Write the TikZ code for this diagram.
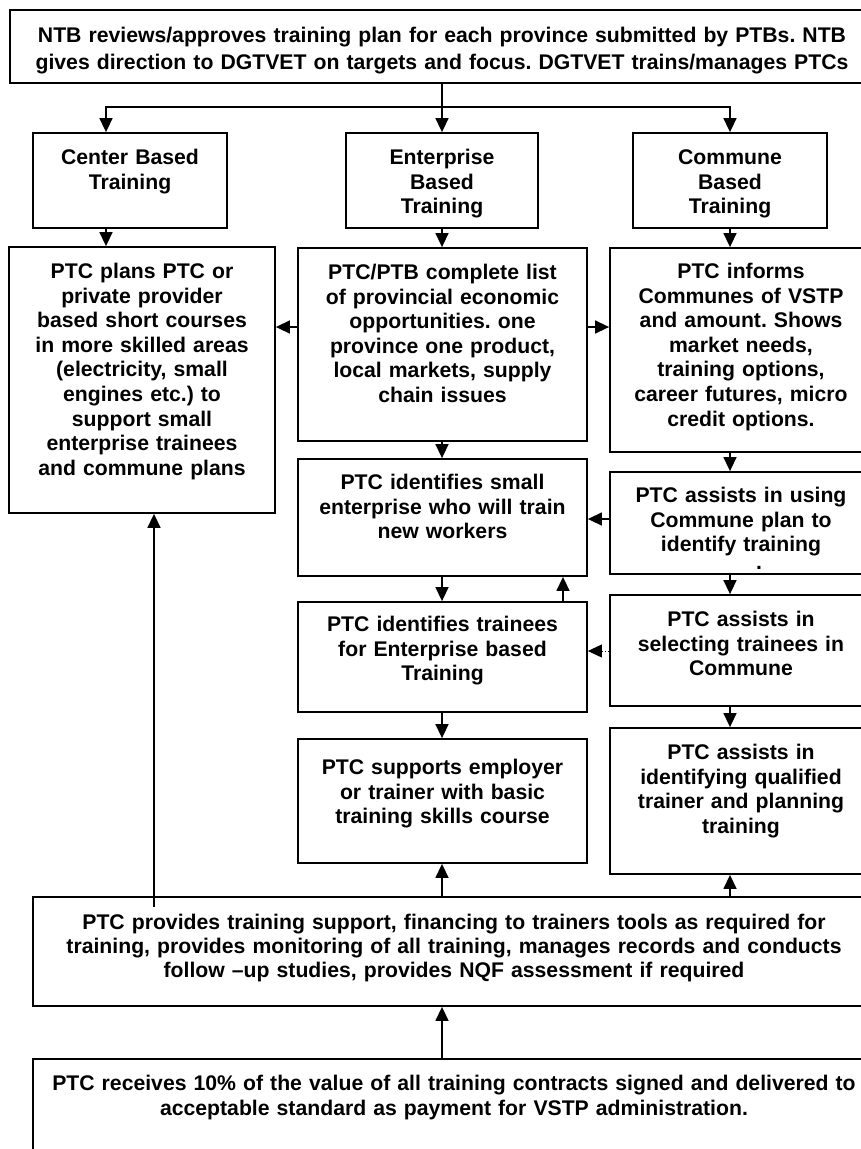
\documentclass[tikz,border=0pt]{standalone}
\usepackage{fontspec}
\setmainfont{Liberation Sans}
\usetikzlibrary{arrows.meta}
\frenchspacing
\begin{document}
\begin{tikzpicture}[x=1pt,y=-1pt,
  box/.style={draw, line width=1.8pt, rectangle, inner sep=0pt},
  txt/.style={anchor=base, inner sep=0pt, align=center, text width=#1,
              font=\bfseries\fontsize{21.2}{24.6}\selectfont},
  txt/.default=330pt,
  link/.style={line width=1.5pt},
  arr/.style={line width=1.5pt, -{Triangle[length=14pt,width=13pt]}},
]
% page
\fill[white] (0,0) rectangle (861,1149);
\useasboundingbox (0,0) rectangle (861,1149);

% column guides
\coordinate (xA) at (106,0);
\coordinate (xE) at (442,0);
\coordinate (xC) at (730,0);
\coordinate (xU) at (563,0);
\coordinate (yR1) at (0,327);
\coordinate (yR2) at (0,519);
\coordinate (yR3) at (0,651);

% boxes
\node[box, minimum width=864pt, minimum height=73pt]  (top)   at (442,46.5)  {};
\node[box, minimum width=194pt, minimum height=95pt]  (cbox)  at (130,180.5) {};
\node[box, minimum width=192pt, minimum height=95pt]  (ebox)  at (442,180.5) {};
\node[box, minimum width=194pt, minimum height=95pt]  (mbox)  at (730,180.5) {};
\node[box, minimum width=266pt, minimum height=266pt] (lbox)  at (142,380)   {};
\node[box, minimum width=289pt, minimum height=193pt] (elist) at (442.5,344.5) {};
\node[box, minimum width=263pt, minimum height=204pt] (inf)   at (741.5,350) {};
\node[box, minimum width=289pt, minimum height=117pt] (small) at (442.5,517.5) {};
\node[box, minimum width=263pt, minimum height=102pt] (using) at (741.5,523) {};
\node[box, minimum width=289pt, minimum height=110pt] (trn)   at (442.5,657) {};
\node[box, minimum width=263pt, minimum height=111pt] (sel)   at (741.5,650.5) {};
\node[box, minimum width=263pt, minimum height=146pt] (idf)   at (741.5,801) {};
\node[box, minimum width=289pt, minimum height=124pt] (sup)   at (442.5,801) {};
\node[box, minimum width=842pt, minimum height=109pt] (mid)   at (454,951.5) {};
\node[box, minimum width=842pt, minimum height=111pt] (bot)   at (454,1114.5) {};

% texts
\node[txt=860pt, font=\bfseries\fontsize{21.2}{27}\selectfont] (ttop) at (442,42.5)
  {NTB reviews/approves training plan for each province submitted by PTBs. NTB\\
   gives direction to DGTVET on targets and focus. DGTVET trains/manages PTCs};
\node[txt] (tcb) at (130,164.5) {Center Based\\Training};
\node[txt] (teb) at (442,164.5) {Enterprise\\Based\\Training};
\node[txt] (tmb) at (730,164.5) {Commune\\Based\\Training};
\node[txt] (tl) at (142,278.5)
  {PTC plans PTC or\\private provider\\based short courses\\in more skilled areas\\
   (electricity, small\\engines etc.) to\\support small\\enterprise trainees\\and commune plans};
\node[txt] (tel) at (442.5,279.5)
  {PTC/PTB complete list\\of provincial economic\\opportunities. one\\province one product,\\
   local markets, supply\\chain issues};
\node[txt] (tinf) at (741,278.5)
  {PTC informs\\Communes of VSTP\\and amount. Shows\\market needs,\\training options,\\
   career futures, micro\\credit options.};
\node[txt] (tsm) at (442.5,489.5)
  {PTC identifies small\\enterprise who will train\\new workers};
\node[txt] (tus) at (741,502.5)
  {PTC assists in using\\Commune plan to\\identify training};
\node[inner sep=0pt, anchor=base, text height=3pt, text depth=0pt,
      font=\bfseries\fontsize{21.2}{24.6}\selectfont] (tdot) at (759,569) {.};
\node[txt] (ttr) at (442.5,631.5)
  {PTC identifies trainees\\for Enterprise based\\Training};
\node[txt] (tse) at (741,626.5)
  {PTC assists in\\selecting trainees in\\Commune};
\node[txt] (tid) at (741,759.5)
  {PTC assists in\\identifying qualified\\trainer and planning\\training};
\node[txt] (tsu) at (442.5,774.5)
  {PTC supports employer\\or trainer with basic\\training skills course};
\node[txt=860pt, font=\bfseries\fontsize{21.2}{24.2}\selectfont] (tmid) at (454,929.5)
  {PTC provides training support, financing to trainers tools as required for\\
   training, provides monitoring of all training, manages records and conducts\\
   follow –up studies, provides NQF assessment if required};
\node[txt=860pt, font=\bfseries\fontsize{21.2}{25}\selectfont] (tbot) at (454,1090.5)
  {PTC receives 10\% of the value of all training contracts signed and delivered to\\
   acceptable standard as payment for VSTP administration.};

% distribution from the top box
\coordinate (hub) at (442,107);
\draw[link] (top.south) -- (hub);
\draw[arr] (hub) -| (cbox.north -| xA);
\draw[arr] (hub) -- (ebox.north);
\draw[arr] (hub) -| (mbox.north);

% first row to second row
\draw[arr] (cbox.south -| xA) -- (lbox.north -| xA);
\draw[arr] (ebox.south -| xE) -- (elist.north -| xE);
\draw[arr] (mbox.south -| xC) -- (inf.north -| xC);
\draw[arr] (elist.west |- yR1) -- (lbox.east |- yR1);
\draw[arr] (elist.east |- yR1) -- (inf.west |- yR1);

% enterprise column
\draw[arr] (elist.south -| xE) -- (small.north -| xE);
\draw[arr] (small.south -| xE) -- (trn.north -| xE);
\draw[arr] (trn.north -| xU) -- (small.south -| xU);
\draw[arr] (trn.south -| xE) -- (sup.north -| xE);

% commune column
\draw[arr] (inf.south -| xC) -- (using.north -| xC);
\draw[arr] (using.west |- yR2) -- (small.east |- yR2);
\draw[arr] (using.south -| xC) -- (sel.north -| xC);
\draw[arr, line width=1pt, dotted] (sel.west |- yR3) -- (trn.east |- yR3);
\draw[arr] (sel.south -| xC) -- (idf.north -| xC);

% support box feeding upwards
\coordinate (lstart) at (154,907);
\draw[arr] (lstart) -- (lbox.south -| lstart);
\draw[arr] (mid.north -| xE) -- (sup.south -| xE);
\draw[arr] (mid.north -| xC) -- (idf.south -| xC);
\draw[arr] (bot.north -| xE) -- (mid.south -| xE);
\end{tikzpicture}
\end{document}
